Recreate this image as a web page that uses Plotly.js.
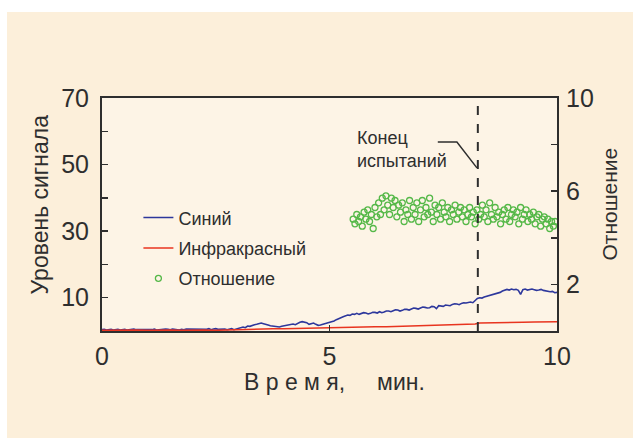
<!DOCTYPE html>
<html>
<head>
<meta charset="utf-8">
<script src="https://cdn.plot.ly/plotly-3.0.1.min.js"></script>
<style>
  html, body { margin: 0; padding: 0; background: #ffffff; width: 633px; height: 438px; overflow: hidden; }
  #chart { position: absolute; left: 7px; top: 12px; width: 626px; height: 426px; }
</style>
</head>
<body>
<div id="chart"></div>
<script>
// ---- Data ----
const blueTime = [0.00,0.05,0.10,0.15,0.20,0.25,0.30,0.35,0.40,0.45,0.50,0.55,0.60,0.65,0.70,0.75,0.80,0.85,0.90,0.95,
1.00,1.05,1.10,1.15,1.20,1.25,1.30,1.35,1.40,1.45,1.50,1.55,1.60,1.65,1.70,1.75,1.80,1.85,1.90,1.95,
2.00,2.05,2.10,2.15,2.20,2.25,2.30,2.35,2.40,2.45,2.50,2.55,2.60,2.65,2.70,2.75,2.80,2.85,2.90,2.95,
3.00,3.05,3.10,3.15,3.20,3.25,3.30,3.35,3.40,3.45,3.50,3.55,3.60,3.65,3.70,3.75,3.80,3.85,3.90,3.95,
4.00,4.05,4.10,4.15,4.20,4.25,4.30,4.35,4.40,4.45,4.50,4.55,4.60,4.65,4.70,4.75,4.80,4.85,4.90,4.95,
5.00,5.05,5.10,5.15,5.20,5.25,5.30,5.35,5.40,5.45,5.50,5.55,5.60,5.65,5.70,5.75,5.80,5.85,5.90,5.95,
6.00,6.05,6.10,6.15,6.20,6.25,6.30,6.35,6.40,6.45,6.50,6.55,6.60,6.65,6.70,6.75,6.80,6.85,6.90,6.95,
7.00,7.05,7.10,7.15,7.20,7.25,7.30,7.35,7.40,7.45,7.50,7.55,7.60,7.65,7.70,7.75,7.80,7.85,7.90,7.95,
8.00,8.05,8.10,8.15,8.20,8.25,8.30,8.35,8.40,8.45,8.50,8.55,8.60,8.65,8.70,8.75,8.80,8.85,8.90,8.95,
9.00,9.05,9.10,9.15,9.20,9.25,9.30,9.35,9.40,9.45,9.50,9.55,9.60,9.65,9.70,9.75,9.80,9.85,9.90,9.95,10.00];
const blueSignal = [0.4,0.5,0.3,0.4,0.5,0.3,0.4,0.5,0.3,0.4,0.5,0.3,0.4,0.6,0.6,0.4,0.4,0.5,0.3,0.4,
0.5,0.3,0.4,0.6,0.3,0.4,0.5,0.4,0.6,0.5,0.4,0.6,0.5,0.3,0.3,0.5,0.4,0.6,0.6,0.4,
0.5,0.6,0.4,0.5,0.6,0.4,0.5,0.7,0.4,0.6,0.7,0.5,0.5,0.7,0.6,0.4,0.5,0.7,0.4,0.6,
0.8,1.1,1.2,1.0,1.5,1.4,1.7,1.9,2.0,2.3,2.4,2.2,2.1,1.8,1.6,1.5,1.3,1.1,1.2,1.4,
1.5,1.7,1.8,2.0,2.1,1.9,2.3,2.6,2.8,2.6,2.5,2.0,2.2,2.4,2.0,1.7,1.8,2.0,2.1,2.3,
2.5,2.7,3.0,3.4,3.6,4.0,4.3,4.5,4.8,4.7,5.1,5.0,5.3,5.0,5.2,5.5,5.4,5.1,5.3,5.6,
5.6,5.4,5.8,5.5,5.7,6.0,6.0,5.8,6.1,6.4,6.3,6.0,6.2,6.5,6.5,6.3,6.6,6.9,6.8,6.6,
6.9,7.2,7.1,6.9,7.0,7.4,7.3,6.7,7.6,7.5,7.4,7.8,7.8,7.6,8.0,8.2,8.1,7.9,8.3,8.5,
8.4,8.6,8.7,8.5,9.3,9.8,10.0,9.9,10.2,10.4,10.5,10.7,10.8,11.1,11.3,11.6,12.0,12.3,12.5,12.3,
12.6,12.4,12.5,12.2,11.0,12.4,12.6,12.3,12.5,12.6,12.4,12.2,12.3,12.5,12.2,12.0,12.0,11.8,11.9,11.5,11.6];

const redTime = [0.0,0.25,0.5,0.75,1.0,1.25,1.5,1.75,2.0,2.25,2.5,2.75,3.0,3.25,3.5,3.75,4.0,4.25,4.5,4.75,5.0,5.25,5.5,5.75,6.0,6.25,6.5,6.75,7.0,7.25,7.5,7.75,8.0,8.2,8.3,8.5,8.75,9.0,9.25,9.5,9.75,10.0];
const redSignal = [0.2,0.3,0.2,0.3,0.2,0.3,0.3,0.2,0.3,0.3,0.2,0.3,0.4,0.6,0.8,0.7,0.7,0.8,0.8,0.9,0.9,1.0,1.1,1.2,1.3,1.3,1.4,1.5,1.6,1.7,1.8,1.9,2.0,2.1,2.4,2.4,2.5,2.6,2.6,2.7,2.7,2.8];

const ratioTime = [5.52,5.56,5.60,5.64,5.68,5.72,5.76,5.80,5.84,5.88,5.92,5.96,6.00,6.04,6.08,6.12,6.16,6.20,6.24,6.28,6.32,6.36,6.40,6.44,6.48,6.52,6.56,6.60,6.64,6.68,6.72,6.76,6.80,6.84,6.88,6.92,6.96,7.00,7.04,7.08,7.12,7.16,7.20,7.24,7.28,7.32,7.36,7.40,7.44,7.48,7.52,7.56,7.60,7.64,7.68,7.72,7.76,7.80,7.84,7.88,7.92,7.96,8.00,8.04,8.08,8.12,8.16,8.20,8.24,8.28,8.32,8.36,8.40,8.44,8.48,8.52,8.56,8.60,8.64,8.68,8.72,8.76,8.80,8.84,8.88,8.92,8.96,9.00,9.04,9.08,9.12,9.16,9.20,9.24,9.28,9.32,9.36,9.40,9.44,9.48,9.52,9.56,9.60,9.64,9.68,9.72,9.76,9.80,9.84,9.88,9.92,9.96];
const ratioValue = [4.8,4.6,5.0,4.7,4.9,4.5,5.1,4.8,5.2,4.7,5.0,4.4,5.3,4.9,5.5,5.0,5.7,5.2,5.8,5.4,5.0,5.7,5.3,5.6,4.9,5.4,5.1,5.5,4.7,5.2,5.0,5.6,4.8,5.3,5.0,5.5,4.7,5.2,5.6,4.9,5.3,5.0,5.7,5.1,4.7,5.4,5.0,5.3,4.8,5.5,5.1,4.9,5.3,4.7,5.2,5.0,5.4,4.8,5.1,5.3,4.9,5.2,4.7,5.0,5.3,4.9,5.1,4.6,5.2,4.8,5.0,5.4,4.9,5.2,4.7,5.5,5.0,4.8,5.3,4.9,5.1,4.6,5.0,5.2,4.8,5.3,4.7,5.0,5.2,4.9,5.1,4.6,5.3,4.8,5.0,5.2,4.7,5.0,4.8,5.1,4.6,4.9,5.0,4.5,4.8,4.9,4.6,4.8,4.4,4.7,4.5,4.7];

const endOfTest = 8.26;
const seriesNames = ['Синий', 'Инфракрасный', 'Отношение'];
const xTitle = 'В р е м я,\u00A0\u00A0\u00A0\u00A0 мин.';
const yTitle = 'Уровень сигнала';
const y2Title = 'Отношение';
const noteText = 'Конец<br>испытаний';
const xTickVals = [0, 5, 10];
const xTickText = ['0', '5', '10'];
const yTickVals = [10, 20, 30, 40, 50, 60, 70];
const yTickText = ['10', '', '30', '', '50', '', '70'];
const y2TickVals = [2, 4, 6, 8, 10];
const y2TickText = ['2', '', '6', '', '10'];

// ---- Styles ----
const FONT = 'Arial, "Liberation Sans", sans-serif';
const INK = '#2e2e2e';
const BLUE = '#2d379c';
const RED = '#e8341f';
const GREEN = '#55b848';

const traces = [
  { x: blueTime, y: blueSignal, name: seriesNames[0], type: 'scatter', mode: 'lines',
    line: { color: BLUE, width: 1.6 }, legendgroup: 'a', xaxis: 'x', yaxis: 'y' },
  { x: redTime, y: redSignal, name: seriesNames[1], type: 'scatter', mode: 'lines',
    line: { color: RED, width: 1.5 }, legendgroup: 'b', xaxis: 'x', yaxis: 'y' },
  { x: ratioTime, y: ratioValue, name: seriesNames[2], type: 'scatter', mode: 'markers',
    marker: { symbol: 'circle-open', size: 6, color: GREEN, line: { width: 1.3, color: GREEN } },
    legendgroup: 'c', xaxis: 'x', yaxis: 'y2' }
];

const layout = {
  width: 626, height: 426,
  margin: { l: 95, r: 76, t: 86, b: 107, pad: 0 },
  paper_bgcolor: '#fcefda',
  plot_bgcolor: '#fdf4e6',
  font: { family: FONT, color: INK, size: 18 },
  showlegend: true,
  legend: {
    x: 0.08, y: 0.565, xanchor: 'left', yanchor: 'top',
    bgcolor: 'rgba(0,0,0,0)', borderwidth: 0,
    font: { family: FONT, size: 18, color: INK },
    traceorder: 'grouped', tracegroupgap: 4, itemwidth: 30
  },
  xaxis: {
    range: [0, 10], tickvals: xTickVals, ticktext: xTickText,
    ticks: 'inside', ticklen: 6, tickwidth: 1.5, tickcolor: INK,
    showline: true, linecolor: INK, linewidth: 2, mirror: true,
    showgrid: false, zeroline: false,
    tickfont: { family: FONT, size: 25, color: INK },
    ticklabelstandoff: 2
  },
  yaxis: {
    range: [0, 70], tickvals: yTickVals, ticktext: yTickText,
    ticks: 'inside', ticklen: 6, tickwidth: 1.5, tickcolor: INK,
    showline: true, linecolor: INK, linewidth: 2, mirror: true,
    showgrid: false, zeroline: false,
    tickfont: { family: FONT, size: 25, color: INK },
    ticklabelstandoff: 6
  },
  yaxis2: {
    range: [0, 10], tickvals: y2TickVals, ticktext: y2TickText,
    overlaying: 'y', side: 'right',
    ticks: 'inside', ticklen: 6, tickwidth: 1.5, tickcolor: INK,
    showline: false, showgrid: false, zeroline: false,
    tickfont: { family: FONT, size: 25, color: INK },
    ticklabelstandoff: 8
  },
  shapes: [
    { type: 'line', xref: 'x', yref: 'paper', x0: endOfTest, x1: endOfTest, y0: 0, y1: 1,
      line: { color: INK, width: 2, dash: 'dash' } },
    { type: 'path', xref: 'x', yref: 'y', path: 'M 7.38,56.8 L 7.80,56.8 L 8.24,49',
      line: { color: INK, width: 1.5 } }
  ],
  annotations: [
    { xref: 'x', yref: 'y', x: 5.56, y: 61.5, xanchor: 'left', yanchor: 'top', align: 'left',
      showarrow: false, text: noteText, font: { family: FONT, size: 18, color: INK } },
    { xref: 'paper', yref: 'paper', x: 0.512, y: 0, yshift: -51, xanchor: 'center', yanchor: 'middle',
      showarrow: false, text: xTitle, font: { family: FONT, size: 23, color: INK } },
    { xref: 'paper', yref: 'paper', x: 0, y: 0.543, xshift: -62, xanchor: 'center', yanchor: 'middle',
      textangle: -90, showarrow: false, text: yTitle, font: { family: FONT, size: 23, color: INK } },
    { xref: 'paper', yref: 'paper', x: 1, y: 0.543, xshift: 52, xanchor: 'center', yanchor: 'middle',
      textangle: -90, showarrow: false, text: y2Title, font: { family: FONT, size: 21, color: INK } }
  ]
};

Plotly.newPlot('chart', traces, layout, { displayModeBar: false, staticPlot: true });
</script>
</body>
</html>
